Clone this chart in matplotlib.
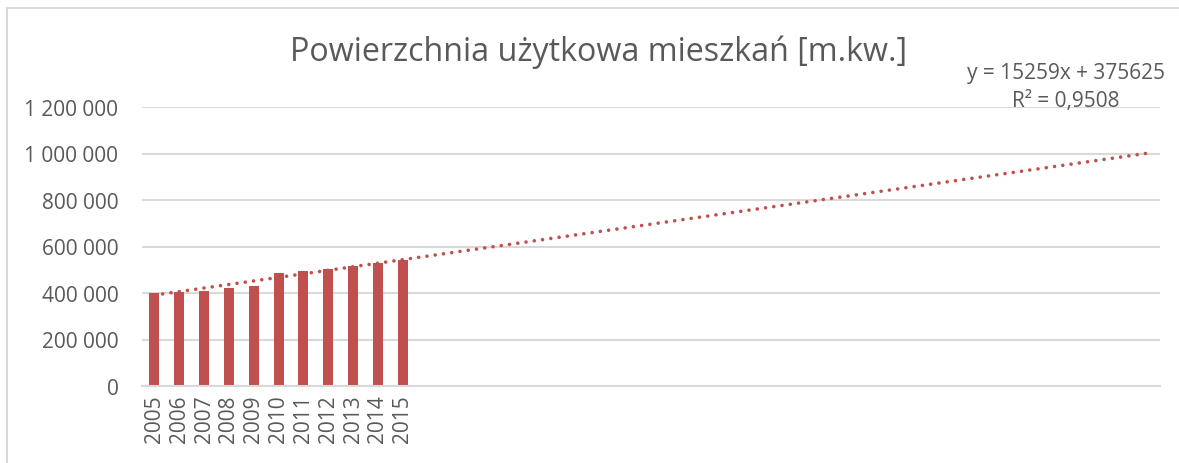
import numpy as np
import matplotlib
matplotlib.use('Agg')
from matplotlib.pylab import plt
from matplotlib.lines import Line2D
from matplotlib.ticker import FuncFormatter

plt.rcParams['font.family'] = ['Open Sans', 'DejaVu Sans']

years = ['2005', '2006', '2007', '2008', '2009', '2010',
         '2011', '2012', '2013', '2014', '2015']
area = [400500, 405000, 410500, 423000, 431000, 488000,
        492500, 502500, 515500, 527000, 541500]

# linear trendline as shown on the chart, with 30 periods forecast
trend_slope = 15259
trend_intercept = 375625
forecast = 30
eq_text = 'y = 15259x + 375625'
r2_text = 'R² = 0,9508'

bar_color = '#C0504D'
text_color = '#595959'
grid_color = '#D9D9D9'
font_size = 15

W, H = 1179, 464
fig = plt.figure(figsize=(W / 100, H / 100), dpi=100)
ax = fig.add_axes([142 / W, 1 - 387 / H, (1160 - 142) / W, (387 - 108) / H])

n_cat = len(years) + forecast
x = np.arange(len(years))
ax.bar(x, area, 0.4, color=bar_color, zorder=2)

xt = np.arange(1, n_cat + 1)
ax.plot(xt - 1, trend_slope * xt + trend_intercept, color=bar_color,
        linewidth=2.6, linestyle=(0, (0.01, 2.3)), dash_capstyle='round', zorder=3)

ax.set_xlim(-0.5, n_cat - 0.5)
ax.set_ylim(0, 1200000)
ax.set_yticks(np.arange(0, 1200001, 200000))
ax.yaxis.set_major_formatter(FuncFormatter(lambda v, p: f'{int(v):,}'.replace(',', ' ')))
ax.set_xticks(x)
ax.set_xticklabels(years, rotation=90)
ax.tick_params(axis='y', length=0, pad=17, labelsize=font_size, labelcolor=text_color)
ax.tick_params(axis='x', length=0, pad=6, labelsize=font_size, labelcolor=text_color)
ax.grid(axis='y', color=grid_color, linewidth=1.5, zorder=0)
ax.set_axisbelow(True)
for s in ['top', 'right', 'left']:
    ax.spines[s].set_visible(False)
ax.spines['bottom'].set_color(grid_color)
ax.spines['bottom'].set_linewidth(1.5)

fig.text(599 / W, 1 - 52 / H, 'Powierzchnia użytkowa mieszkań [m.kw.]',
         ha='center', va='center', fontsize=23.2, color=text_color)
fig.text(1066 / W, 1 - 73 / H, eq_text, ha='center', va='center',
         fontsize=font_size, color=text_color)
fig.text(1066 / W, 1 - 102 / H, r2_text, ha='center', va='center',
         fontsize=font_size, color=text_color)

# chart frame (left and top edges visible)
fig.add_artist(Line2D([6.5 / W, 6.5 / W], [0, 1 - 9 / H], color=grid_color, linewidth=1.5))
fig.add_artist(Line2D([6.5 / W, 1], [1 - 9 / H, 1 - 9 / H], color=grid_color, linewidth=1.5))

plt.savefig('out.png', dpi=100)
